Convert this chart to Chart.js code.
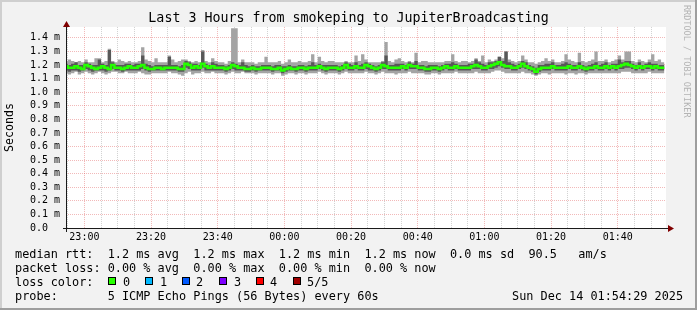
<!DOCTYPE html>
<html>
<head>
<meta charset="utf-8">
<title>smokeping - JupiterBroadcasting</title>
<script src="https://cdn.jsdelivr.net/npm/chart.js@4.4.1/dist/chart.umd.min.js"></script>
<style>
  body { margin: 0; background: #f2f2f2; }
  #wrap { position: relative; width: 697px; height: 310px; overflow: hidden; font-family: 'DejaVu Sans Mono', monospace; }
  #graph { position: absolute; left: 0; top: 0; }
  .lg { position: absolute; font-size: 11.85px; line-height: 14px; color: #000; white-space: pre; }
  .box { position: absolute; width: 6px; height: 6px; border: 1px solid #000; }
  #mark { position: absolute; left: 682px; top: 5px; writing-mode: vertical-rl; font-size: 8.5px; line-height: 10px; color: #b4b4b4; white-space: pre; }
</style>
</head>
<body>
<div id="wrap">
  <canvas id="graph" width="697" height="310"></canvas>
  <div id="mark">RRDTOOL / TOBI OETIKER</div>

  <div class="lg" style="left:15px;top:247px">median rtt:  1.2 ms avg  1.2 ms max  1.2 ms min  1.2 ms now  0.0 ms sd  90.5   am/s</div>
  <div class="lg" style="left:15px;top:261px">packet loss: 0.00 % avg  0.00 % max  0.00 % min  0.00 % now</div>

  <div class="lg" style="left:15px;top:275px">loss color:</div>
  <div class="box" style="left:108px;top:277px;background:#26ff00"></div>
  <div class="lg" style="left:123px;top:275px">0</div>
  <div class="box" style="left:145px;top:277px;background:#00b8ff"></div>
  <div class="lg" style="left:160px;top:275px">1</div>
  <div class="box" style="left:182px;top:277px;background:#0059ff"></div>
  <div class="lg" style="left:196px;top:275px">2</div>
  <div class="box" style="left:219px;top:277px;background:#7e00ff"></div>
  <div class="lg" style="left:234px;top:275px">3</div>
  <div class="box" style="left:256px;top:277px;background:#ff0000"></div>
  <div class="lg" style="left:270px;top:275px">4</div>
  <div class="box" style="left:293px;top:277px;background:#a00000"></div>
  <div class="lg" style="left:307px;top:275px">5/5</div>

  <div class="lg" style="left:15px;top:289px">probe:       5 ICMP Echo Pings (56 Bytes) every 60s</div>
  <div class="lg" style="left:512px;top:289px">Sun Dec 14 01:54:29 2025</div>
</div>

<script>
// x values are minutes after midnight of Dec 13 (so 1440 = 00:00 on Dec 14)
const tStart = 22*60 + 54 + 29/60;   // 22:54:29
const tEnd = tStart + 180;           // 01:54:29
const firstStep = 22*60 + 54;        // first 60s step shown

// 5 pings per step, sorted: fastest, 2nd, median, 4th, slowest (ms)
let pMin = [
  1.14,1.13,1.14,1.15,1.13,1.14,1.15,1.14,1.13,1.14,1.15,1.14,1.13,1.14,1.15,1.15,1.14,1.14,1.15,1.14,
  1.14,1.14,1.15,1.14,1.13,1.13,1.14,1.14,1.14,1.14,1.14,1.15,1.14,1.14,1.13,1.12,1.14,1.15,1.13,1.14,
  1.14,1.15,1.14,1.14,1.15,1.14,1.14,1.14,1.13,1.14,1.15,1.14,1.14,1.15,1.14,1.14,1.14,1.13,1.14,1.14,
  1.14,1.14,1.13,1.14,1.14,1.12,1.13,1.14,1.14,1.13,1.14,1.14,1.13,1.14,1.14,1.14,1.15,1.14,1.13,1.14,
  1.14,1.14,1.13,1.14,1.15,1.14,1.14,1.14,1.14,1.14,1.15,1.14,1.14,1.13,1.14,1.15,1.14,1.14,1.14,1.13,
  1.14,1.14,1.14,1.15,1.14,1.14,1.14,1.14,1.13,1.13,1.14,1.14,1.13,1.14,1.14,1.14,1.14,1.15,1.14,1.14,
  1.14,1.14,1.14,1.15,1.14,1.14,1.14,1.14,1.15,1.16,1.16,1.15,1.14,1.14,1.14,1.14,1.14,1.15,1.14,1.14,
  1.13,1.12,1.13,1.14,1.14,1.13,1.14,1.14,1.14,1.14,1.13,1.14,1.14,1.13,1.14,1.14,1.13,1.14,1.14,1.14,
  1.14,1.14,1.14,1.14,1.14,1.14,1.14,1.15,1.15,1.15,1.14,1.14,1.14,1.14,1.14,1.15,1.14,1.14,1.14,1.14
];
let pLo = [
  1.16,1.15,1.16,1.16,1.15,1.16,1.17,1.16,1.15,1.16,1.16,1.16,1.15,1.16,1.17,1.16,1.16,1.15,1.16,1.16,
  1.16,1.16,1.16,1.17,1.16,1.15,1.16,1.16,1.16,1.16,1.16,1.16,1.16,1.16,1.15,1.15,1.18,1.17,1.16,1.16,
  1.16,1.18,1.16,1.16,1.16,1.16,1.16,1.16,1.15,1.16,1.17,1.16,1.16,1.16,1.15,1.15,1.16,1.15,1.16,1.16,
  1.16,1.16,1.15,1.16,1.16,1.14,1.15,1.16,1.16,1.15,1.16,1.16,1.15,1.16,1.16,1.16,1.17,1.16,1.15,1.16,
  1.16,1.16,1.15,1.16,1.17,1.16,1.16,1.17,1.16,1.16,1.17,1.16,1.16,1.15,1.16,1.17,1.17,1.16,1.16,1.16,
  1.16,1.17,1.16,1.17,1.17,1.17,1.16,1.16,1.15,1.15,1.16,1.16,1.15,1.16,1.17,1.16,1.16,1.17,1.16,1.16,
  1.16,1.16,1.17,1.17,1.17,1.16,1.16,1.17,1.17,1.18,1.19,1.18,1.17,1.17,1.16,1.16,1.17,1.18,1.17,1.16,
  1.15,1.13,1.15,1.16,1.16,1.16,1.17,1.16,1.16,1.16,1.16,1.17,1.16,1.16,1.17,1.16,1.15,1.16,1.16,1.17,
  1.16,1.16,1.17,1.16,1.17,1.16,1.17,1.17,1.18,1.18,1.17,1.16,1.17,1.16,1.17,1.17,1.16,1.17,1.16,1.16
];
let median = [
  1.19,1.18,1.18,1.19,1.18,1.17,1.20,1.19,1.18,1.17,1.18,1.19,1.18,1.17,1.20,1.18,1.18,1.17,1.18,1.19,
  1.18,1.18,1.19,1.20,1.18,1.17,1.17,1.18,1.18,1.17,1.18,1.18,1.18,1.18,1.17,1.17,1.21,1.20,1.18,1.19,
  1.18,1.21,1.19,1.18,1.19,1.18,1.18,1.18,1.17,1.18,1.20,1.19,1.18,1.18,1.17,1.17,1.18,1.17,1.17,1.18,
  1.18,1.18,1.17,1.17,1.18,1.16,1.17,1.18,1.17,1.17,1.18,1.18,1.17,1.18,1.18,1.18,1.19,1.18,1.17,1.18,
  1.18,1.18,1.17,1.18,1.20,1.18,1.18,1.19,1.18,1.18,1.20,1.19,1.18,1.17,1.18,1.20,1.19,1.18,1.18,1.18,
  1.18,1.19,1.18,1.20,1.19,1.19,1.18,1.18,1.17,1.17,1.18,1.18,1.17,1.18,1.19,1.18,1.18,1.19,1.18,1.18,
  1.18,1.18,1.19,1.20,1.19,1.18,1.18,1.19,1.20,1.21,1.22,1.20,1.19,1.19,1.18,1.18,1.19,1.21,1.19,1.18,
  1.17,1.15,1.17,1.18,1.18,1.18,1.19,1.18,1.18,1.18,1.18,1.19,1.18,1.18,1.19,1.18,1.17,1.18,1.18,1.19,
  1.18,1.18,1.19,1.18,1.19,1.18,1.19,1.20,1.21,1.20,1.19,1.18,1.19,1.18,1.19,1.19,1.18,1.19,1.18,1.18
];
let pHi = [
  1.21,1.20,1.21,1.22,1.20,1.20,1.22,1.21,1.20,1.20,1.24,1.21,1.20,1.31,1.22,1.20,1.20,1.20,1.21,1.21,
  1.20,1.21,1.21,1.27,1.21,1.20,1.19,1.20,1.20,1.20,1.20,1.26,1.20,1.20,1.19,1.20,1.23,1.22,1.21,1.21,
  1.20,1.30,1.21,1.20,1.22,1.21,1.20,1.20,1.19,1.20,1.22,1.21,1.20,1.22,1.20,1.19,1.20,1.19,1.19,1.20,
  1.20,1.20,1.19,1.20,1.20,1.19,1.19,1.20,1.19,1.19,1.20,1.20,1.19,1.20,1.22,1.20,1.21,1.20,1.20,1.20,
  1.20,1.20,1.19,1.20,1.22,1.21,1.20,1.22,1.20,1.21,1.22,1.21,1.20,1.19,1.20,1.22,1.27,1.20,1.20,1.21,
  1.21,1.21,1.20,1.22,1.21,1.23,1.20,1.20,1.19,1.20,1.20,1.20,1.19,1.20,1.21,1.21,1.22,1.21,1.20,1.20,
  1.20,1.21,1.21,1.24,1.22,1.21,1.20,1.22,1.22,1.23,1.26,1.23,1.30,1.22,1.21,1.20,1.21,1.23,1.22,1.20,
  1.19,1.18,1.20,1.20,1.21,1.21,1.22,1.20,1.20,1.21,1.22,1.21,1.20,1.20,1.22,1.20,1.19,1.20,1.21,1.22,
  1.20,1.21,1.22,1.20,1.21,1.21,1.24,1.22,1.23,1.23,1.21,1.20,1.22,1.20,1.21,1.22,1.21,1.21,1.20,1.20
];
let pMax = [
  1.23,1.24,1.23,1.22,1.23,1.22,1.24,1.22,1.22,1.25,1.25,1.22,1.23,1.32,1.23,1.22,1.24,1.23,1.22,1.23,
  1.22,1.22,1.23,1.33,1.24,1.23,1.22,1.25,1.22,1.22,1.22,1.27,1.24,1.22,1.23,1.24,1.24,1.23,1.22,1.23,
  1.22,1.31,1.23,1.22,1.25,1.23,1.22,1.22,1.21,1.23,1.47,1.47,1.22,1.24,1.22,1.22,1.22,1.21,1.22,1.22,
  1.26,1.22,1.22,1.22,1.23,1.21,1.22,1.24,1.22,1.22,1.23,1.22,1.22,1.23,1.28,1.22,1.26,1.23,1.22,1.23,
  1.23,1.22,1.22,1.22,1.23,1.22,1.22,1.27,1.23,1.28,1.24,1.22,1.22,1.22,1.22,1.23,1.37,1.23,1.22,1.24,
  1.25,1.23,1.22,1.23,1.22,1.29,1.22,1.23,1.23,1.22,1.22,1.22,1.22,1.22,1.23,1.23,1.28,1.23,1.22,1.23,
  1.23,1.22,1.23,1.25,1.23,1.27,1.22,1.24,1.23,1.24,1.26,1.25,1.30,1.24,1.23,1.22,1.23,1.27,1.24,1.22,
  1.22,1.21,1.22,1.23,1.25,1.23,1.24,1.22,1.22,1.23,1.28,1.24,1.23,1.22,1.29,1.23,1.22,1.23,1.24,1.30,
  1.23,1.23,1.24,1.22,1.23,1.24,1.27,1.24,1.30,1.30,1.23,1.22,1.24,1.23,1.22,1.24,1.28,1.23,1.24,1.22
];

// y axis ticks (ms) and x grid every 5 min, labels every 20 min
const yMax = 1.48, yStep = 0.1;
let xTicks = [];
for (let m = 1375; m <= 1550; m += 5) xTicks.push(m);

// rrdtool default-ish colours
const BACK = '#f2f2f2', CANVAS = '#ffffff';
const SHADEA = '#cfcfcf', SHADEB = '#9e9e9e';
const GRID = 'rgba(143,143,143,0.4)', MGRID = 'rgba(222,79,79,0.4)';
const ARROW = '#800000', AXIS = '#1a1a1a';
const LIGHT_SMOKE = '#a4a4a4', DARK_SMOKE = '#585858', LOSS0 = '#26ff00';
const FONT = "'DejaVu Sans Mono', monospace";

// one step is drawn from its start minute to the next one, so close each series with the last value
const toPoints = function (vals) {
  let pts = vals.map((v, i) => ({ x: firstStep + i, y: v }));
  pts.push({ x: firstStep + vals.length, y: vals[vals.length - 1] });
  return pts;
};

const hhmm = function (v) {
  let m = ((v % 1440) + 1440) % 1440;
  let h = Math.floor(m / 60), mm = Math.round(m % 60);
  return String(h).padStart(2, '0') + ':' + String(mm).padStart(2, '0');
};

const band = { borderColor: 'rgba(0,0,0,0)', borderWidth: 0, pointRadius: 0, stepped: 'before' };

const rrdFrame = {
  id: 'rrdFrame',
  beforeDraw(chart) {
    const ctx = chart.ctx, a = chart.chartArea;
    const W = chart.width, H = chart.height;
    ctx.save();
    ctx.fillStyle = BACK;
    ctx.fillRect(0, 0, W, H);
    ctx.fillStyle = SHADEA;
    ctx.fillRect(0, 0, W, 2);
    ctx.fillRect(0, 0, 2, H);
    ctx.fillStyle = SHADEB;
    ctx.fillRect(0, H - 2, W, 2);
    ctx.fillRect(W - 2, 0, 2, H);
    ctx.fillStyle = CANVAS;
    ctx.fillRect(a.left, a.top, a.right - a.left, a.bottom - a.top);
    ctx.restore();
  },
  afterDraw(chart) {
    const ctx = chart.ctx, a = chart.chartArea;
    ctx.save();
    ctx.strokeStyle = AXIS;
    ctx.lineWidth = 1;
    ctx.beginPath();
    ctx.moveTo(a.left - 3, a.bottom + 0.5);
    ctx.lineTo(a.right + 3, a.bottom + 0.5);
    ctx.moveTo(a.left + 0.5, a.bottom + 4);
    ctx.lineTo(a.left + 0.5, a.top - 1);
    ctx.stroke();
    // arrows
    ctx.fillStyle = ARROW;
    ctx.beginPath();
    ctx.moveTo(a.right + 2, a.bottom - 3);
    ctx.lineTo(a.right + 8, a.bottom + 0.5);
    ctx.lineTo(a.right + 2, a.bottom + 4);
    ctx.closePath();
    ctx.fill();
    ctx.beginPath();
    ctx.moveTo(a.left - 3, a.top);
    ctx.lineTo(a.left + 0.5, a.top - 6);
    ctx.lineTo(a.left + 4, a.top);
    ctx.closePath();
    ctx.fill();
    ctx.restore();
  }
};

new Chart(document.getElementById('graph'), {
  type: 'line',
  data: {
    datasets: [
      { label: 'median', data: toPoints(median), borderColor: LOSS0, borderWidth: 2.5, pointRadius: 0, stepped: 'before', fill: false },
      Object.assign({ label: 'ping 2', data: toPoints(pLo), fill: false }, band),
      Object.assign({ label: 'ping 4', data: toPoints(pHi), fill: '-1', backgroundColor: DARK_SMOKE }, band),
      Object.assign({ label: 'ping 1', data: toPoints(pMin), fill: false }, band),
      Object.assign({ label: 'ping 5', data: toPoints(pMax), fill: '-1', backgroundColor: LIGHT_SMOKE }, band)
    ]
  },
  options: {
    responsive: false,
    animation: false,
    events: [],
    layout: { padding: { top: 0, left: 0, right: 0, bottom: 62 } },
    plugins: {
      legend: { display: false },
      tooltip: { enabled: false },
      title: {
        display: true,
        text: 'Last 3 Hours from smokeping to JupiterBroadcasting',
        color: '#000',
        font: { family: FONT, size: 13.3, weight: 'normal' },
        padding: { top: 11, bottom: 0 }
      }
    },
    scales: {
      x: {
        type: 'linear',
        min: tStart,
        max: tEnd,
        afterBuildTicks: s => { s.ticks = xTicks.map(v => ({ value: v })); },
        afterFit: s => { s.height = 20; },
        ticks: {
          autoSkip: false,
          maxRotation: 0,
          padding: 3,
          color: '#000',
          font: { family: FONT, size: 10 },
          callback: v => (v % 20 === 0 ? hhmm(v) : '')
        },
        grid: {
          drawTicks: false,
          lineWidth: 1,
          color: c => (c.tick && c.tick.value % 20 === 0 ? MGRID : GRID)
        },
        border: { display: false, dash: [1, 1] }
      },
      y: {
        type: 'linear',
        min: 0,
        max: yMax,
        afterFit: s => { s.width = 66; },
        ticks: {
          stepSize: yStep,
          maxTicksLimit: 30,
          autoSkip: false,
          includeBounds: false,
          padding: 6,
          color: '#000',
          font: { family: FONT, size: 10 },
          callback: v => (Math.abs(v) < 1e-9 ? '0.0  ' : v.toFixed(1) + ' m')
        },
        grid: { drawTicks: false, lineWidth: 1, color: MGRID },
        border: { display: false, dash: [1, 1] },
        title: {
          display: true,
          text: 'Seconds',
          color: '#000',
          font: { family: FONT, size: 11.6 },
          padding: { top: 3, bottom: 0 }
        }
      },
      yr: {
        type: 'linear',
        position: 'right',
        afterFit: s => { s.width = 31; },
        ticks: { display: false },
        grid: { display: false },
        border: { display: false }
      }
    }
  },
  plugins: [rrdFrame]
});
</script>
</body>
</html>
